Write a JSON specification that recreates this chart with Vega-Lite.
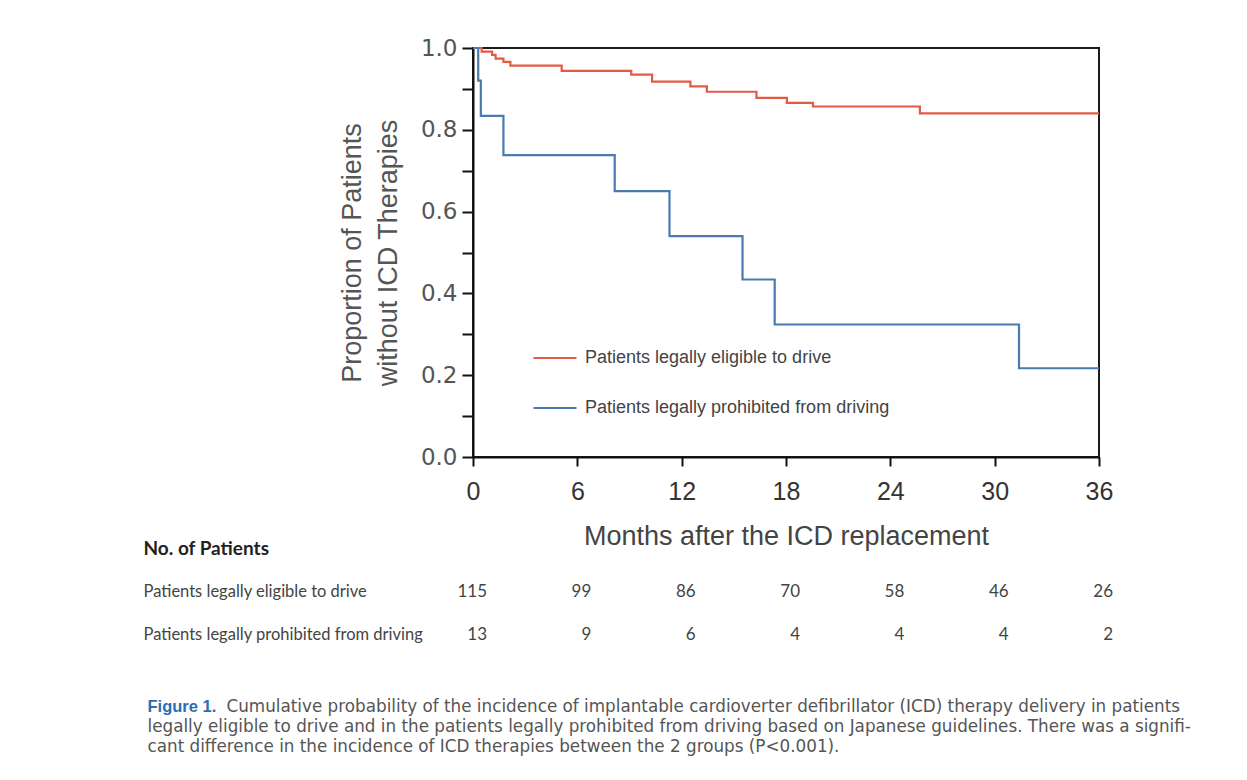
{
  "$schema": "https://vega.github.io/schema/vega-lite/v6.json",
  "background": "white",
  "padding": {"left": 143, "top": 36, "right": 20, "bottom": 20},
  "bounds": "flush",
  "spacing": 33.5,
  "config": {"view": {"stroke": null}, "font": "Liberation Sans"},
  "datasets": {
    "km": [
      {"group": "Patients legally eligible to drive", "month": 0, "survival": 1.0},
      {"group": "Patients legally eligible to drive", "month": 0.5, "survival": 0.991},
      {"group": "Patients legally eligible to drive", "month": 1.1, "survival": 0.983},
      {"group": "Patients legally eligible to drive", "month": 1.3, "survival": 0.974},
      {"group": "Patients legally eligible to drive", "month": 1.75, "survival": 0.966},
      {"group": "Patients legally eligible to drive", "month": 2.15, "survival": 0.957},
      {"group": "Patients legally eligible to drive", "month": 5.1, "survival": 0.944},
      {"group": "Patients legally eligible to drive", "month": 9.1, "survival": 0.935},
      {"group": "Patients legally eligible to drive", "month": 10.3, "survival": 0.918},
      {"group": "Patients legally eligible to drive", "month": 12.5, "survival": 0.906},
      {"group": "Patients legally eligible to drive", "month": 13.45, "survival": 0.893},
      {"group": "Patients legally eligible to drive", "month": 16.3, "survival": 0.878},
      {"group": "Patients legally eligible to drive", "month": 18.05, "survival": 0.866},
      {"group": "Patients legally eligible to drive", "month": 19.55, "survival": 0.857},
      {"group": "Patients legally eligible to drive", "month": 25.7, "survival": 0.84},
      {"group": "Patients legally eligible to drive", "month": 36, "survival": 0.84},
      {"group": "Patients legally prohibited from driving", "month": 0, "survival": 1.0},
      {"group": "Patients legally prohibited from driving", "month": 0.3, "survival": 0.92},
      {"group": "Patients legally prohibited from driving", "month": 0.45, "survival": 0.834},
      {"group": "Patients legally prohibited from driving", "month": 1.75, "survival": 0.738},
      {"group": "Patients legally prohibited from driving", "month": 8.15, "survival": 0.65},
      {"group": "Patients legally prohibited from driving", "month": 11.3, "survival": 0.54},
      {"group": "Patients legally prohibited from driving", "month": 15.5, "survival": 0.434},
      {"group": "Patients legally prohibited from driving", "month": 17.35, "survival": 0.324},
      {"group": "Patients legally prohibited from driving", "month": 31.4, "survival": 0.217},
      {"group": "Patients legally prohibited from driving", "month": 36, "survival": 0.217}
    ],
    "table": [
      {"row": "Patients legally eligible to drive", "month": 0, "n": 115},
      {"row": "Patients legally eligible to drive", "month": 6, "n": 99},
      {"row": "Patients legally eligible to drive", "month": 12, "n": 86},
      {"row": "Patients legally eligible to drive", "month": 18, "n": 70},
      {"row": "Patients legally eligible to drive", "month": 24, "n": 58},
      {"row": "Patients legally eligible to drive", "month": 30, "n": 46},
      {"row": "Patients legally eligible to drive", "month": 36, "n": 26},
      {"row": "Patients legally prohibited from driving", "month": 0, "n": 13},
      {"row": "Patients legally prohibited from driving", "month": 6, "n": 9},
      {"row": "Patients legally prohibited from driving", "month": 12, "n": 6},
      {"row": "Patients legally prohibited from driving", "month": 18, "n": 4},
      {"row": "Patients legally prohibited from driving", "month": 24, "n": 4},
      {"row": "Patients legally prohibited from driving", "month": 30, "n": 4},
      {"row": "Patients legally prohibited from driving", "month": 36, "n": 2}
    ],
    "caption": [
      {"text": "Cumulative probability of the incidence of implantable cardioverter defibrillator (ICD) therapy delivery in patients"},
      {"text": "legally eligible to drive and in the patients legally prohibited from driving based on Japanese guidelines. There was a signifi-"},
      {"text": "cant difference in the incidence of ICD therapies between the 2 groups (P<0.001)."}
    ]
  },
  "vconcat": [
    {
      "width": 626,
      "height": 409,
      "view": {"stroke": "#1a1a1a", "strokeWidth": 2},
      "data": {"name": "km"},
      "mark": {"type": "line", "interpolate": "step-after", "strokeWidth": 2.2},
      "encoding": {
        "x": {
          "field": "month", "type": "quantitative",
          "scale": {"domain": [0, 36], "nice": false},
          "axis": {
            "values": [0, 6, 12, 18, 24, 30, 36],
            "title": "Months after the ICD replacement",
            "titleFont": "Liberation Sans", "titleFontSize": 27, "titleFontWeight": "normal", "titleColor": "#444", "titlePadding": 19,
            "labelFont": "Liberation Sans", "labelFontSize": 25, "labelColor": "#333", "labelPadding": 13, "labelFlush": false,
            "tickSize": 9, "tickWidth": 2, "tickColor": "#111", "domainColor": "#111", "domainWidth": 2, "grid": false
          }
        },
        "y": {
          "field": "survival", "type": "quantitative",
          "scale": {"domain": [0, 1], "nice": false},
          "axis": {
            "values": [0, 0.1, 0.2, 0.3, 0.4, 0.5, 0.6, 0.7, 0.8, 0.9, 1.0],
            "labelExpr": "round(datum.value * 10) % 2 == 0 ? format(datum.value, '.1f') : ''",
            "title": ["Proportion of Patients", "without ICD Therapies"],
            "titleFont": "Liberation Sans", "titleFontSize": 27, "titleFontWeight": "normal", "titleColor": "#555", "titlePadding": 18, "titleLineHeight": 36,
            "labelFont": "DejaVu Sans", "labelFontSize": 23, "labelColor": "#555", "labelPadding": 5, "labelFlush": false,
            "tickSize": 11, "tickWidth": 2, "tickColor": "#111", "domainColor": "#111", "domainWidth": 2, "grid": false
          }
        },
        "color": {
          "field": "group", "type": "nominal",
          "scale": {"domain": ["Patients legally eligible to drive", "Patients legally prohibited from driving"], "range": ["#e35a45", "#4a7ab0"]},
          "legend": {
            "orient": "none", "legendX": 59, "legendY": 287, "title": null, "padding": 0,
            "symbolType": "stroke", "symbolSize": 1849, "symbolStrokeWidth": 2.2,
            "labelFont": "Liberation Sans", "labelFontSize": 18, "labelColor": "#444", "labelOffset": 7, "labelLimit": 600,
            "rowPadding": 18
          }
        }
      }
    },
    {
      "width": 626,
      "height": 172,
      "data": {"name": "table"},
      "mark": {"type": "text", "align": "right", "dx": 14, "font": "Lato", "fontSize": 17, "color": "#444"},
      "encoding": {
        "x": {"field": "month", "type": "quantitative", "scale": {"domain": [0, 36], "nice": false}, "axis": null},
        "y": {
          "field": "row", "type": "nominal",
          "scale": {"domain": ["No. of Patients", "Patients legally eligible to drive", "Patients legally prohibited from driving"], "padding": 1, "align": 0.68},
          "axis": {
            "orient": "left", "title": null, "domain": false, "ticks": false, "tickSize": 0,
            "labelAlign": "left", "labelPadding": 330, "labelLimit": 800, "labelOverlap": false,
            "labelFont": "Lato", "labelColor": {"condition": {"test": "datum.value == 'No. of Patients'", "value": "#222"}, "value": "#444"},
            "labelFontSize": {"condition": {"test": "datum.value == 'No. of Patients'", "value": 19}, "value": 16.5},
            "labelFontWeight": {"condition": {"test": "datum.value == 'No. of Patients'", "value": "bold"}, "value": "normal"}
          }
        },
        "text": {"field": "n", "type": "quantitative"}
      }
    },
    {
      "width": 626,
      "height": 60,
      "data": {"name": "caption"},
      "layer": [
        {
          "mark": {"type": "point", "opacity": 0},
          "encoding": {
            "y": {
              "field": "text", "type": "nominal", "sort": null,
              "axis": {
                "orient": "left", "title": null, "domain": false, "ticks": false, "tickSize": 0,
                "labelAlign": "left", "labelPadding": 326, "labelLimit": 1200, "labelOverlap": false,
                "labelExpr": "datum.index == 0 ? 'Figure 1.' : datum.label",
                "labelFont": {"condition": {"test": "datum.index == 0", "value": "Liberation Sans"}, "value": "DejaVu Sans"},
                "labelFontSize": {"condition": {"test": "datum.index == 0", "value": 16.5}, "value": 16.8},
                "labelColor": {"condition": {"test": "datum.index == 0", "value": "#2a6db5"}, "value": "#555"},
                "labelFontWeight": {"condition": {"test": "datum.index == 0", "value": "bold"}, "value": "normal"}
              }
            }
          }
        },
        {
          "mark": {"type": "point", "opacity": 0},
          "encoding": {
            "y": {
              "field": "text", "type": "nominal", "sort": null,
              "axis": {
                "orient": "right", "title": null, "domain": false, "ticks": false, "tickSize": 0,
                "labelAlign": "left", "labelPadding": -873, "labelLimit": 1200, "labelOverlap": false,
                "labelExpr": "datum.index == 0 ? datum.label : ''",
                "labelFont": "DejaVu Sans", "labelFontSize": 16.8, "labelColor": "#555"
              }
            }
          }
        }
      ],
      "resolve": {"axis": {"y": "independent"}}
    }
  ]
}
